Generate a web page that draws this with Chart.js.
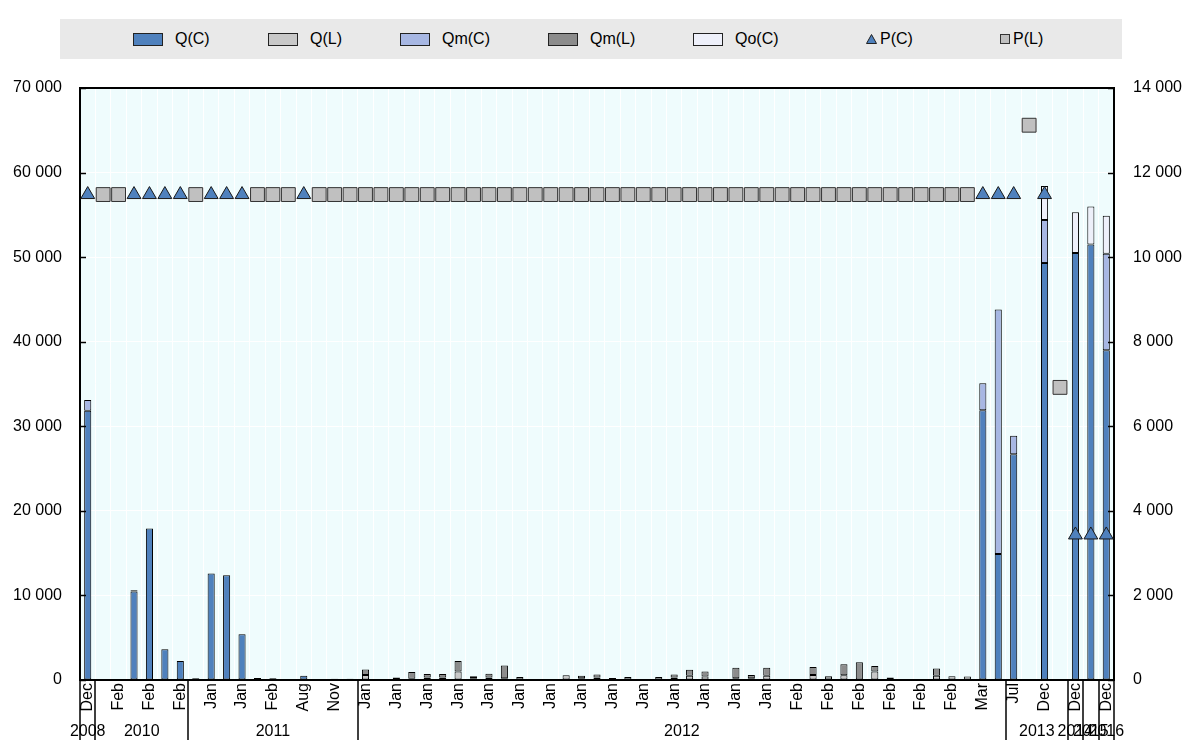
<!DOCTYPE html>
<html lang="en">
<head>
<meta charset="UTF-8">
<title>Q and P by period</title>
<script src="https://cdn.jsdelivr.net/npm/chart.js"></script>
<style>
    body {
        margin: 0;
        background: #fff;
        font-family: 'Liberation Sans', Arial, sans-serif;
    }

    .wrap {
        position: relative;
        width: 1185px;
        height: 740px;
    }

    #chart {
        position: absolute;
        left: 0;
        top: 0;
    }

    .legend {
        position: absolute;
        left: 60px;
        top: 19px;
        width: 1062px;
        height: 40px;
        background: #e9e9e9;
        z-index: 2;
    }

    .legend .item {
        position: absolute;
        top: 0;
        height: 40px;
        display: flex;
        align-items: center;
        font-size: 16px;
        color: #000;
    }

    .legend .box {
        width: 28px;
        height: 11px;
        border: 1px solid #222;
        margin-right: 12px;
    }

    .legend svg {
        margin-right: 3px;
    }
</style>
</head>
<body>
<div class="wrap">
    <canvas id="chart" width="1185" height="740"></canvas>
    <div class="legend" id="legend"></div>
</div>

<script>
    const _ = null;

    // one category per period, only every other label is printed
    const months = [
        'Dec', '', 'Feb', '', 'Feb', '', 'Feb', '', 'Jan', '',
        'Jan', '', 'Feb', '', 'Aug', '', 'Nov', '', 'Jan', '',
        'Jan', '', 'Jan', '', 'Jan', '', 'Jan', '', 'Jan', '',
        'Jan', '', 'Jan', '', 'Jan', '', 'Jan', '', 'Jan', '',
        'Jan', '', 'Jan', '', 'Jan', '', 'Feb', '', 'Feb', '',
        'Feb', '', 'Feb', '', 'Feb', '', 'Feb', '', 'Mar', '',
        'Jul', '', 'Dec', '', 'Dec', '', 'Dec'
    ];
    const yearNames = ['2008', '2010', '2011', '2012', '2013', '2014', '2015', '2016'];
    const yearStarts = [0, 1, 7, 18, 60, 64, 65, 66];

    // quantities (left axis)
    const qC = [
        31850, _, _, 10450, 17900, 3650, 2250, _, 12600, 12400,
        5400, _, _, _, 500, _, _, _, _, _,
        _, _, _, _, _, _, _, _, _, _,
        _, _, _, _, _, _, _, _, _, _,
        _, _, _, _, _, _, _, _, _, _,
        _, _, _, _, _, _, _, _, 31900, 14900,
        26700, _, 49300, _, 50500, 51500, 39000
    ];
    const qL = [
        _, _, _, _, _, _, _, 200, _, _,
        _, _, _, _, _, _, 150, 150, 600, _,
        _, 150, 300, 300, 1000, 200, 300, 200, _, _,
        _, 550, 200, 300, _, _, _, _, 300, 500,
        400, _, 200, 200, 500, _, _, 600, _, 550,
        _, 1000, _, _, _, 500, 450, 400, _, _,
        _, _, _, _, _, _, _
    ];
    const qmC = [
        1250, _, _, _, _, _, _, _, _, _,
        _, _, _, _, _, _, _, _, _, _,
        _, _, _, _, _, _, _, _, _, _,
        _, _, _, _, _, _, _, _, _, _,
        _, _, _, _, _, _, _, _, _, _,
        _, _, _, _, _, _, _, _, 3200, 28900,
        2170, _, 5100, _, _, _, 11400
    ];
    const qmL = [
        _, _, _, 150, _, _, _, _, _, _,
        _, 250, 200, _, _, _, _, _, 650, _,
        300, 800, 400, 400, 1250, 250, 450, 1500, 350, _,
        _, _, 300, 350, 250, 350, _, 350, 350, 700,
        600, _, 1250, 400, 950, _, _, 950, 450, 1300,
        2100, 650, 300, _, _, 850, _, _, _, _,
        _, _, _, _, _, _, _
    ];
    const qoC = [
        _, _, _, _, _, _, _, _, _, _,
        _, _, _, _, _, _, _, _, _, _,
        _, _, _, _, _, _, _, _, _, _,
        _, _, _, _, _, _, _, _, _, _,
        _, _, _, _, _, _, _, _, _, _,
        _, _, _, _, _, _, _, _, _, _,
        _, _, 4000, _, 4800, 4500, 4500
    ];

    // prices (right axis)
    const pC = [
        11480, _, _, 11480, 11480, 11480, 11480, _, 11480, 11480,
        11480, _, _, _, 11480, _, _, _, _, _,
        _, _, _, _, _, _, _, _, _, _,
        _, _, _, _, _, _, _, _, _, _,
        _, _, _, _, _, _, _, _, _, _,
        _, _, _, _, _, _, _, _, 11480, 11480,
        11480, _, 11480, _, 3430, 3430, 3430
    ];
    const pL = [
        _, 11480, 11480, _, _, _, _, 11480, _, _,
        _, 11480, 11480, 11480, _, 11480, 11480, 11480, 11480, 11480,
        11480, 11480, 11480, 11480, 11480, 11480, 11480, 11480, 11480, 11480,
        11480, 11480, 11480, 11480, 11480, 11480, 11480, 11480, 11480, 11480,
        11480, 11480, 11480, 11480, 11480, 11480, 11480, 11480, 11480, 11480,
        11480, 11480, 11480, 11480, 11480, 11480, 11480, 11480, _, _,
        _, 13120, _, 6920, _, _, _
    ];

    const leftMax = 70000, leftStep = 10000;
    const rightMax = 14000, rightStep = 2000;

    const colors = {
        qC: '#4f81bd',
        qL: '#c8c8c8',
        qmC: '#a7b7e3',
        qmL: '#8c8c8c',
        qoC: '#eef0fa',
        pL: '#c0c0c0',
        edge: '#000000'
    };

    const fmt = v => String(v).replace(/\B(?=(\d{3})+(?!\d))/g, ' ');

    function bar(label, data, color) {
        return {
            type: 'bar',
            label: label,
            data: data,
            backgroundColor: color,
            borderColor: colors.edge,
            borderWidth: 1,
            borderSkipped: false,
            barPercentage: 0.46,
            categoryPercentage: 1,
            yAxisID: 'y',
            stack: 'q',
            order: 2
        };
    }

    // plot background, top frame, inward ticks and the year row under the axis
    const framePlugin = {
        id: 'frame',
        beforeDraw(chart) {
            const { ctx, chartArea: a } = chart;
            ctx.save();
            ctx.fillStyle = '#effcfd';
            ctx.fillRect(a.left, a.top, a.right - a.left, a.bottom - a.top);
            ctx.restore();
        },
        afterDraw(chart) {
            const { ctx, chartArea: a } = chart;
            const x = chart.scales.x, y = chart.scales.y, y1 = chart.scales.y1;
            ctx.save();
            ctx.strokeStyle = '#000';
            ctx.lineWidth = 2;
            ctx.beginPath();
            ctx.moveTo(a.left - 1, a.top);
            ctx.lineTo(a.right + 1, a.top);
            ctx.stroke();

            ctx.lineWidth = 1.5;
            y.ticks.forEach(t => {
                const py = Math.round(y.getPixelForValue(t.value)) + 0.5;
                ctx.beginPath();
                ctx.moveTo(a.left, py);
                ctx.lineTo(a.left + 6, py);
                ctx.stroke();
            });
            y1.ticks.forEach(t => {
                const py = Math.round(y1.getPixelForValue(t.value)) + 0.5;
                ctx.beginPath();
                ctx.moveTo(a.right, py);
                ctx.lineTo(a.right - 6, py);
                ctx.stroke();
            });

            const edges = [a.left];
            yearStarts.slice(1).forEach(i => {
                edges.push((x.getPixelForValue(i - 1) + x.getPixelForValue(i)) / 2);
            });
            edges.push(a.right);
            edges.forEach(ex => {
                const px = Math.round(ex);
                ctx.beginPath();
                ctx.moveTo(px, a.bottom);
                ctx.lineTo(px, chart.height);
                ctx.stroke();
            });

            ctx.fillStyle = '#000';
            ctx.font = '16px "Liberation Sans", Arial, sans-serif';
            ctx.textAlign = 'center';
            ctx.textBaseline = 'middle';
            yearNames.forEach((n, k) => {
                ctx.fillText(n, (edges[k] + edges[k + 1]) / 2, 732);
            });
            ctx.restore();
        }
    };

    Chart.defaults.font.family = "'Liberation Sans', Arial, sans-serif";
    Chart.defaults.font.size = 16;
    Chart.defaults.color = '#000';

    const chart = new Chart(document.getElementById('chart'), {
        data: {
            labels: months,
            datasets: [
                bar('Q(C)', qC, colors.qC),
                bar('Q(L)', qL, colors.qL),
                bar('Qm(C)', qmC, colors.qmC),
                bar('Qm(L)', qmL, colors.qmL),
                bar('Qo(C)', qoC, colors.qoC),
                {
                    type: 'line',
                    label: 'P(C)',
                    data: pC,
                    yAxisID: 'y1',
                    showLine: false,
                    pointStyle: 'triangle',
                    pointRadius: 8,
                    pointHoverRadius: 8,
                    pointBackgroundColor: colors.qC,
                    pointBorderColor: '#1a1a1a',
                    pointBorderWidth: 1,
                    order: 0
                },
                {
                    type: 'line',
                    label: 'P(L)',
                    data: pL,
                    yAxisID: 'y1',
                    showLine: false,
                    pointStyle: 'rect',
                    pointRadius: 9.8,
                    pointHoverRadius: 9.8,
                    pointBackgroundColor: colors.pL,
                    pointBorderColor: '#333',
                    pointBorderWidth: 1,
                    order: 1
                }
            ]
        },
        options: {
            responsive: false,
            animation: false,
            layout: { padding: { top: 88, left: 0, right: 0, bottom: 0 } },
            plugins: {
                legend: { display: false },
                tooltip: { enabled: false }
            },
            scales: {
                x: {
                    stacked: true,
                    offset: true,
                    grid: { color: '#ffffff', lineWidth: 1, drawTicks: false, offset: true },
                    border: { color: '#000', width: 2 },
                    ticks: {
                        autoSkip: false,
                        maxRotation: 90,
                        minRotation: 90,
                        padding: 3,
                        callback: (v, i) => months[i]
                    },
                    afterFit: s => { s.height = 60; }
                },
                y: {
                    stacked: true,
                    min: 0,
                    max: leftMax,
                    ticks: { stepSize: leftStep, padding: 18, callback: fmt },
                    grid: { color: '#ffffff', lineWidth: 1, drawTicks: false },
                    border: { color: '#000', width: 2 },
                    afterFit: s => { s.width = 80; }
                },
                y1: {
                    position: 'right',
                    min: 0,
                    max: rightMax,
                    ticks: { stepSize: rightStep, padding: 19, callback: fmt },
                    grid: { display: false, drawTicks: false },
                    border: { color: '#000', width: 2 },
                    afterFit: s => { s.width = 71; }
                }
            }
        },
        plugins: [framePlugin]
    });

    // legend band
    const legendLeft = [73, 208, 340, 488, 633, 806, 940];
    const legend = document.getElementById('legend');
    chart.data.datasets.forEach((ds, k) => {
        const item = document.createElement('div');
        item.className = 'item';
        item.style.left = legendLeft[k] + 'px';
        let mark;
        if (ds.type === 'bar') {
            mark = '<span class="box" style="background:' + ds.backgroundColor + '"></span>';
        } else if (ds.pointStyle === 'triangle') {
            mark = '<svg width="11" height="10"><polygon points="0.5,9.5 5.5,0.5 10.5,9.5" fill="' +
                colors.qC + '" stroke="#222" stroke-width="1"/></svg>';
        } else {
            mark = '<svg width="10" height="10"><rect x="0.5" y="0.5" width="9" height="9" fill="' +
                colors.pL + '" stroke="#333" stroke-width="1"/></svg>';
        }
        item.innerHTML = mark + '<span>' + ds.label + '</span>';
        legend.appendChild(item);
    });
</script>
</body>
</html>
